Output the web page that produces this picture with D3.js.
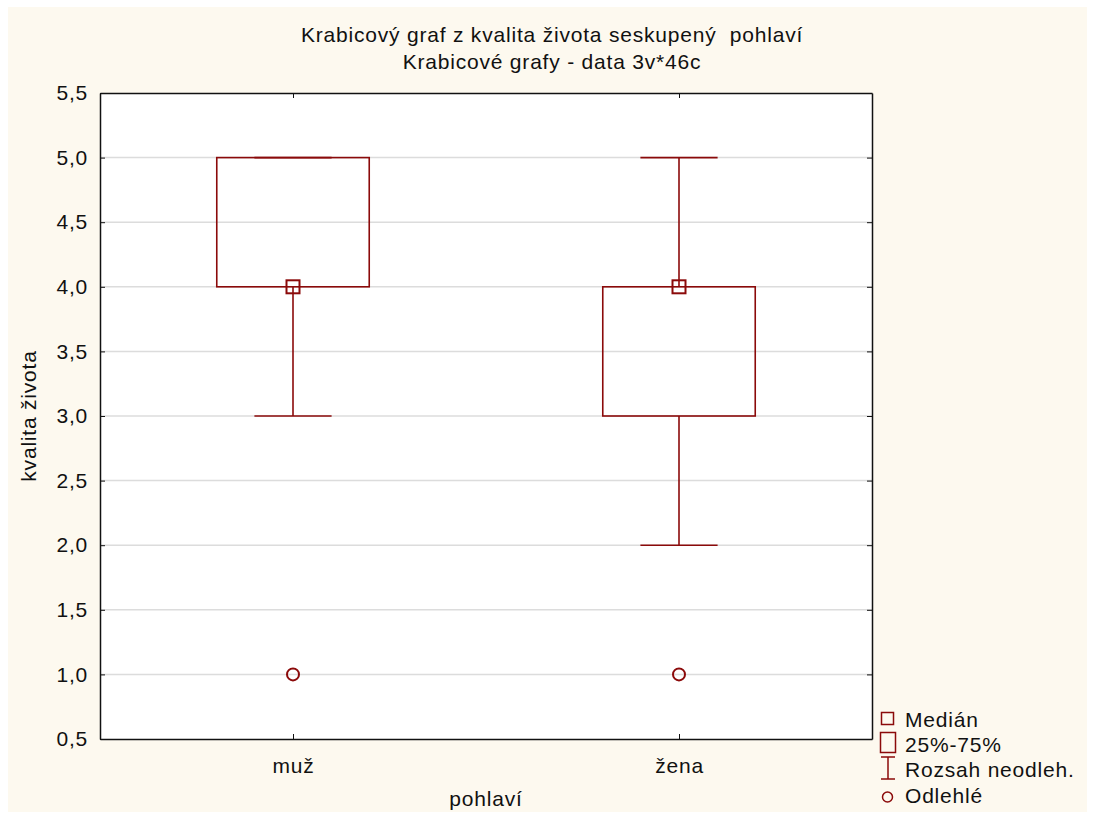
<!DOCTYPE html>
<html><head><meta charset="utf-8">
<script src="https://cdn.jsdelivr.net/npm/d3@7"></script>
<style>body{margin:0;background:#fff}svg{display:block}text{font-family:"Liberation Sans",Arial,sans-serif;fill:#111;letter-spacing:0.8px;white-space:pre}</style>
</head><body><svg id="c" width="1094" height="819"></svg>
<script>
const categories = ["muž", "žena"];
const q1 = [4, 3];
const median = [4, 4];
const q3 = [5, 4];
const whiskerMin = [3, 2];
const whiskerMax = [5, 5];
const outliers = [[1], [1]];
const yTicks = [0.5, 1, 1.5, 2, 2.5, 3, 3.5, 4, 4.5, 5, 5.5];
const legendLabels = ["Medián", "25%-75%", "Rozsah neodleh.", "Odlehlé"];
const title1 = "Krabicový graf z kvalita života seskupený  pohlaví";
const title2 = "Krabicové grafy - data 3v*46c";

const red = "#8b0a0a";
const FS = 21;
const svg = d3.select("#c");
svg.append("rect").attr("x", 8).attr("y", 7).attr("width", 1079).attr("height", 805).attr("fill", "#fdf9ef");

const L = 100, R = 872, T = 93, B = 739;
const x = d3.scalePoint().domain(categories).range([L, R]).padding(0.5);
const y = d3.scaleLinear().domain([0.5, 5.5]).range([B, T]);
const band = x.step();
const boxW = band * 0.395, capW = band * 0.2;

svg.append("rect").attr("x", L).attr("y", T).attr("width", R - L).attr("height", B - T).attr("fill", "#fff");

// gridlines
svg.append("g").selectAll("line").data(yTicks.filter(d => d > 0.5 && d < 5.5)).join("line")
  .attr("x1", L).attr("x2", R).attr("y1", d => y(d)).attr("y2", d => y(d))
  .attr("stroke", "#dcdcdc").attr("stroke-width", 1.5);

const fmt = d => d3.format(".1f")(d).replace(".", ",");
// axes
svg.append("g").attr("transform", `translate(${L},0)`)
  .call(d3.axisLeft(y).tickValues(yTicks).tickFormat(fmt).tickSizeInner(-5).tickSizeOuter(0).tickPadding(12));
svg.append("g").attr("transform", `translate(${R},0)`)
  .call(d3.axisRight(y).tickValues(yTicks).tickFormat("").tickSizeInner(-5).tickSizeOuter(0));
svg.append("g").attr("transform", `translate(0,${B})`)
  .call(d3.axisBottom(x).tickSizeInner(-5).tickSizeOuter(0).tickPadding(19));
svg.append("g").attr("transform", `translate(0,${T})`)
  .call(d3.axisTop(x).tickFormat("").tickSizeInner(-5).tickSizeOuter(0));
svg.selectAll(".domain").attr("stroke", "#111").attr("stroke-width", 1.5);
svg.selectAll(".tick line").attr("stroke", "#111");
svg.selectAll(".tick text").attr("font-size", FS).attr("fill", "#111")
  .style("font-family", '"Liberation Sans",Arial,sans-serif');

// boxes
const g = svg.append("g");
categories.forEach((c, i) => {
  const cx = x(c);
  g.append("line").attr("x1", cx).attr("x2", cx).attr("y1", y(q3[i])).attr("y2", y(whiskerMax[i])).attr("stroke", red).attr("stroke-width", 1.6);
  g.append("line").attr("x1", cx).attr("x2", cx).attr("y1", y(q1[i])).attr("y2", y(whiskerMin[i])).attr("stroke", red).attr("stroke-width", 1.6);
  g.append("line").attr("x1", cx - capW / 2).attr("x2", cx + capW / 2).attr("y1", y(whiskerMax[i])).attr("y2", y(whiskerMax[i])).attr("stroke", red).attr("stroke-width", 1.6);
  g.append("line").attr("x1", cx - capW / 2).attr("x2", cx + capW / 2).attr("y1", y(whiskerMin[i])).attr("y2", y(whiskerMin[i])).attr("stroke", red).attr("stroke-width", 1.6);
  g.append("rect").attr("x", cx - boxW / 2).attr("y", y(q3[i])).attr("width", boxW).attr("height", y(q1[i]) - y(q3[i]))
    .attr("fill", "none").attr("stroke", red).attr("stroke-width", 1.6);
  g.append("rect").attr("x", cx - 6.5).attr("y", y(median[i]) - 6.5).attr("width", 13).attr("height", 13)
    .attr("fill", "none").attr("stroke", red).attr("stroke-width", 2);
  outliers[i].forEach(o => {
    g.append("circle").attr("cx", cx).attr("cy", y(o)).attr("r", 6).attr("fill", "none").attr("stroke", red).attr("stroke-width", 2);
  });
});

// titles
svg.append("text").attr("x", 552).attr("y", 42).attr("text-anchor", "middle").attr("font-size", FS).text(title1);
svg.append("text").attr("x", 552).attr("y", 69).attr("text-anchor", "middle").attr("font-size", FS).text(title2);
svg.append("text").attr("transform", `translate(36,${(T + B) / 2}) rotate(-90)`).attr("text-anchor", "middle").attr("font-size", FS).text("kvalita života");
svg.append("text").attr("x", 486).attr("y", 806).attr("text-anchor", "middle").attr("font-size", FS).text("pohlaví");

// legend
const lg = svg.append("g");
const base = [727, 752, 777, 803];
lg.append("rect").attr("x", 881.5).attr("y", 712.5).attr("width", 12).attr("height", 12).attr("fill", "none").attr("stroke", red).attr("stroke-width", 1.5);
lg.append("rect").attr("x", 880.5).attr("y", 732.5).attr("width", 15).attr("height", 20).attr("fill", "none").attr("stroke", red).attr("stroke-width", 1.5);
lg.append("line").attr("x1", 888).attr("x2", 888).attr("y1", 757).attr("y2", 779).attr("stroke", red).attr("stroke-width", 1.5);
lg.append("line").attr("x1", 881).attr("x2", 895).attr("y1", 757).attr("y2", 757).attr("stroke", red).attr("stroke-width", 1.5);
lg.append("line").attr("x1", 881).attr("x2", 895).attr("y1", 779).attr("y2", 779).attr("stroke", red).attr("stroke-width", 1.5);
lg.append("circle").attr("cx", 887.5).attr("cy", 797).attr("r", 5).attr("fill", "none").attr("stroke", red).attr("stroke-width", 1.5);
lg.selectAll("text").data(legendLabels).join("text")
  .attr("x", 905).attr("y", (d, i) => base[i]).attr("font-size", FS).text(d => d);
</script></body></html>
